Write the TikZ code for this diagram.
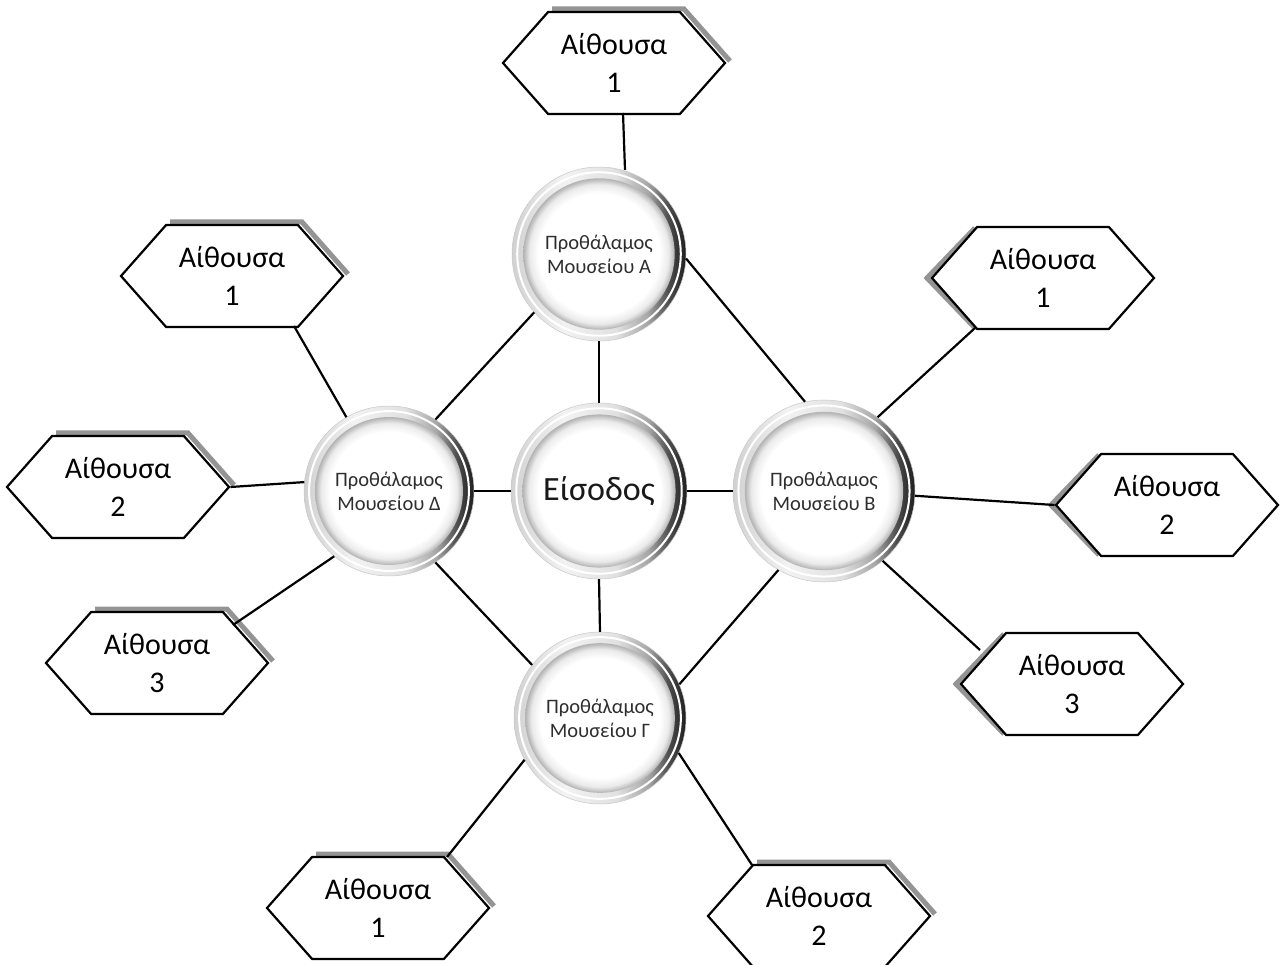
\documentclass[tikz,border=0pt]{standalone}
\usepackage{fontspec}
\setmainfont{Carlito}
\usetikzlibrary{shapes.symbols,calc}
\pgfdeclarehorizontalshading{rimshade}{100bp}{color(0bp)=(black!18); color(25bp)=(black!18); color(40bp)=(black!5); color(55bp)=(black!12); color(64bp)=(black!35); color(70bp)=(black!70); color(75bp)=(black!88); color(100bp)=(black!88)}
\pgfdeclareradialshading{innerball}{\pgfpointorigin}{color(0bp)=(white); color(20bp)=(white); color(23bp)=(black!8); color(25bp)=(black!30); color(50bp)=(black!30)}
\tikzset{
  hexbox/.style={signal, signal to=east and west, signal pointer angle=97, draw=black, line width=2.2pt, fill=white, minimum width=222pt, minimum height=102pt, inner sep=0pt, align=center, font=\fontsize{30}{38}\selectfont},
  hexshadow/.style={draw=black!42, line width=5pt},
  ballnode/.style={circle, inner sep=0pt, align=center, text=black!82, font=\fontsize{20.5}{24}\selectfont},
  link/.style={draw=black, line width=2.2pt},
}
\newcommand\hexL[4]{%
  \draw[hexshadow] (#2-62,#3-54) -- (#2+70,#3-54) -- (#2+116,#3-2);
  \node[hexbox] (#1) at (#2,#3) {Αίθουσα\\#4};}
\newcommand\hexR[4]{%
  \draw[hexshadow] (#2-68,#3-50) -- (#2-116,#3) -- (#2-68,#3+50);
  \node[hexbox] (#1) at (#2,#3) {Αίθουσα\\#4};}
\newcommand\ball[5]{%
  \shade[shading=rimshade] (#2,#3) circle (#4);
  \draw[white,line width=2pt] (#2,#3) circle (#4*0.94);
  \shade[shading=innerball] (#2,#3) circle (#4*0.87);
  \draw[black!22,line width=0.5pt] (#2,#3) circle (#4);
  \node[ballnode, minimum size=2*#4] (#1) at (#2,#3) {#5};}
\begin{document}
\begin{tikzpicture}[x=1pt,y=-1pt]
\useasboundingbox (0,0) rectangle (1280,965);
\hexL{A1}{614}{63}{1}
\hexL{D1}{232}{276}{1}
\hexL{D2}{118}{487}{2}
\hexL{D3}{157}{663}{3}
\hexR{B1}{1043}{278}{1}
\hexR{B2}{1167}{505}{2}
\hexR{B3}{1072}{684}{3}
\hexL{G1}{378}{908}{1}
\hexL{G2}{819}{916}{2}
\ball{A}{599}{254}{87}{Προθάλαμος\\Μουσείου Α}
\ball{E}{599}{491}{88}{\fontsize{34}{40}\selectfont\color{black!90}Είσοδος}
\ball{D}{389}{491}{85}{Προθάλαμος\\Μουσείου Δ}
\ball{B}{824}{491}{91}{Προθάλαμος\\Μουσείου Β}
\ball{G}{600}{718}{86}{Προθάλαμος\\Μουσείου Γ}
\draw[link] ([shift={(9,50)}]A1.center) -- ([shift={(26,3)}]A.north);
\draw[link] ([shift={(62,50)}]D1.center) -- (D.120);
\draw[link] (D2.east) -- (D.174);
\draw[link] ([shift={(76,-38)}]D3.center) -- (D.230);
\draw[link] ([shift={(-68,50)}]B1.center) -- (B.54);
\draw[link] (B2.west) -- (B.357);
\draw[link] ([shift={(-92,-34)}]B3.center) -- (B.310);
\draw[link] ([shift={(69,-51)}]G1.center) -- (G.209);
\draw[link] ([shift={(-67,-51)}]G2.center) -- (G.336);
\draw[link] (D.57) -- (A.222);
\draw[link] (D.303) -- (G.142);
\draw[link] (A.357) -- (B.102);
\draw[link] (B.240) -- (G.23);
\draw[link] (E.north) -- (A.south);
\draw[link] (E.west) -- (D.east);
\draw[link] (E.east) -- (B.west);
\draw[link] (E.south) -- (G.north);
\end{tikzpicture}
\end{document}
